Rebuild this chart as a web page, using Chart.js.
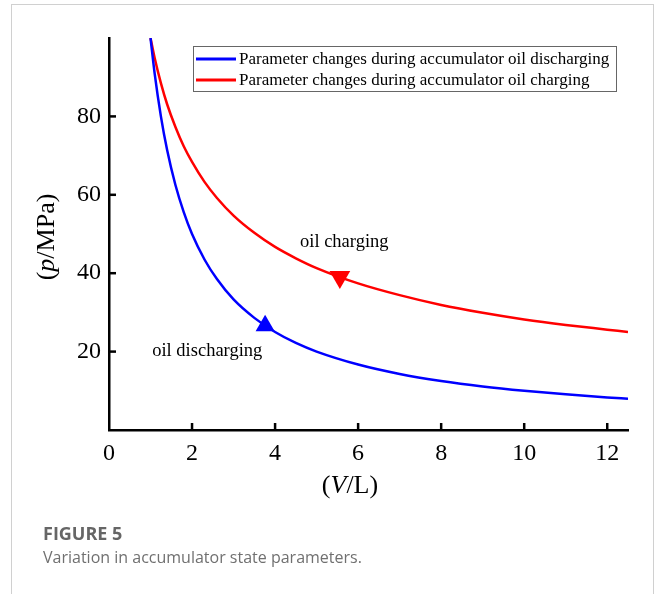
<!DOCTYPE html>
<html>
<head>
<meta charset="utf-8">
<script src="https://cdn.jsdelivr.net/npm/chart.js@4.4.0/dist/chart.umd.min.js"></script>
<style>
  body { margin: 0; background: #fff; }
  #wrap { position: relative; width: 654px; height: 594px; overflow: hidden; }
  #frame { position: absolute; left: 11px; top: 4px; width: 643px; height: 620px; border: 1px solid #d0d0d0; box-sizing: border-box; }
  #chart { position: absolute; left: 0; top: 0; }
  .cap { position: absolute; left: 43px; font-family: "Open Sans", "Noto Sans", sans-serif; white-space: nowrap; }
  #figno { top: 521px; font-size: 18px; font-weight: 700; color: #666; }
  #figtxt { top: 546px; font-size: 16px; color: #707070; }
</style>
</head>
<body>
<div id="wrap">
  <div id="frame"></div>
  <canvas id="chart" width="654" height="594"></canvas>
  <div class="cap" id="figno">FIGURE 5</div>
  <div class="cap" id="figtxt">Variation in accumulator state parameters.</div>
</div>
<script>
// volume (L) where the curves were read
const volumes = [1, 1.1, 1.25, 1.4, 1.6, 1.8, 2, 2.3, 2.6, 3, 3.5, 4, 4.5, 5, 6, 7, 8, 9, 10, 11, 12, 12.5];
// pressure (MPa) during oil discharging (blue)
const dischargePressure = [100, 90.9, 80, 71.4, 62.5, 55.6, 50, 43.5, 38.5, 33.3, 28.6, 25, 22.2, 20, 16.7, 14.3, 12.5, 11.1, 10, 9.1, 8.3, 8.0];
// pressure (MPa) during oil charging (red)
const chargePressure = [100, 94.9, 88.5, 83.1, 77.3, 72.4, 68.4, 63.3, 59.2, 54.7, 50.3, 46.7, 43.8, 41.3, 37.4, 34.4, 31.9, 29.9, 28.2, 26.8, 25.6, 25.0];

// direction arrows
const dischargeMarker = [{ x: 3.76, y: 26.6 }];
const chargeMarker = [{ x: 5.56, y: 39.0 }];

const seriesLabels = [
    'Parameter changes during accumulator oil discharging',
    'Parameter changes during accumulator oil charging'
];
const seriesColors = ['#0000ff', '#ff0000'];

const xTickValues = [0, 2, 4, 6, 8, 10, 12];
const yTickValues = [20, 40, 60, 80];

// text notes placed in data coordinates
const notes = [
    { text: 'oil charging', x: 4.6, y: 46.6 },
    { text: 'oil discharging', x: 1.04, y: 18.8 }
];

const serif = "'Liberation Serif', 'Times New Roman', serif";

function drawMixed(ctx, parts, cx, cy, size) {
    let total = 0;
    parts.forEach(p => {
        ctx.font = (p.italic ? 'italic ' : '') + size + 'px ' + serif;
        p.w = ctx.measureText(p.text).width;
        total += p.w;
    });
    let x = cx - total / 2;
    ctx.textAlign = 'left';
    ctx.textBaseline = 'middle';
    parts.forEach(p => {
        ctx.font = (p.italic ? 'italic ' : '') + size + 'px ' + serif;
        ctx.fillText(p.text, x, cy);
        x += p.w;
    });
}

const overlay = {
    id: 'overlay',
    afterDraw(chart) {
        const { ctx, chartArea: a, scales: { x, y } } = chart;
        ctx.save();

        // inward tick marks
        ctx.strokeStyle = '#000';
        ctx.lineWidth = 2.5;
        yTickValues.forEach(v => {
            const py = y.getPixelForValue(v);
            ctx.beginPath();
            ctx.moveTo(a.left, py);
            ctx.lineTo(a.left + 7, py);
            ctx.stroke();
        });
        xTickValues.slice(1).forEach(v => {
            const px = x.getPixelForValue(v);
            ctx.beginPath();
            ctx.moveTo(px, a.bottom);
            ctx.lineTo(px, a.bottom - 7);
            ctx.stroke();
        });

        // axis titles
        ctx.fillStyle = '#000';
        drawMixed(ctx, [{ text: '(' }, { text: 'V', italic: true }, { text: '/L)' }], 350, 486, 26);
        ctx.save();
        ctx.translate(47, 237);
        ctx.rotate(-Math.PI / 2);
        drawMixed(ctx, [{ text: '(' }, { text: 'p', italic: true }, { text: '/MPa)' }], 0, 0, 26);
        ctx.restore();

        // notes
        ctx.font = '18.5px ' + serif;
        ctx.textAlign = 'left';
        ctx.textBaseline = 'alphabetic';
        notes.forEach(n => {
            ctx.fillText(n.text, x.getPixelForValue(n.x), y.getPixelForValue(n.y));
        });

        // legend box
        const lx = a.left + 84, ly = a.top + 8;
        ctx.strokeStyle = '#666';
        ctx.lineWidth = 1;
        ctx.strokeRect(lx + 0.5, ly + 0.5, 423, 45);
        ctx.font = '17px ' + serif;
        ctx.textBaseline = 'middle';
        seriesLabels.forEach((label, i) => {
            const ry = ly + 13 + i * 21;
            ctx.strokeStyle = seriesColors[i];
            ctx.lineWidth = 3;
            ctx.beginPath();
            ctx.moveTo(lx + 3, ry);
            ctx.lineTo(lx + 43, ry);
            ctx.stroke();
            ctx.fillStyle = '#000';
            ctx.fillText(label, lx + 46, ry + 1);
        });
        ctx.restore();
    }
};

new Chart(document.getElementById('chart'), {
    type: 'line',
    data: {
        datasets: [
            {
                label: seriesLabels[0],
                data: volumes.map((v, i) => ({ x: v, y: dischargePressure[i] })),
                borderColor: seriesColors[0],
                borderWidth: 2.5,
                pointRadius: 0,
                cubicInterpolationMode: 'monotone'
            },
            {
                label: seriesLabels[1],
                data: volumes.map((v, i) => ({ x: v, y: chargePressure[i] })),
                borderColor: seriesColors[1],
                borderWidth: 2.5,
                pointRadius: 0,
                cubicInterpolationMode: 'monotone'
            },
            {
                label: 'discharge arrow',
                data: dischargeMarker,
                showLine: false,
                pointStyle: 'triangle',
                pointRadius: 11,
                pointBackgroundColor: seriesColors[0],
                pointBorderColor: seriesColors[0],
                pointBorderWidth: 0
            },
            {
                label: 'charge arrow',
                data: chargeMarker,
                showLine: false,
                pointStyle: 'triangle',
                rotation: 180,
                pointRadius: 12,
                pointBackgroundColor: seriesColors[1],
                pointBorderColor: seriesColors[1],
                pointBorderWidth: 0
            }
        ]
    },
    options: {
        responsive: false,
        animation: false,
        layout: { padding: { top: 38, right: 26, left: 0, bottom: 0 } },
        plugins: {
            legend: { display: false },
            tooltip: { enabled: false }
        },
        scales: {
            x: {
                type: 'linear',
                min: 0,
                max: 12.5,
                afterFit(s) { s.height = 164; },
                grid: { display: false, drawTicks: false },
                border: { display: true, color: '#000', width: 2.5 },
                ticks: {
                    stepSize: 2,
                    includeBounds: false,
                    autoSkip: false,
                    maxRotation: 0,
                    padding: 9,
                    color: '#000',
                    font: { family: serif, size: 24 },
                    callback: v => (v % 2 === 0 ? v : '')
                }
            },
            y: {
                min: 0,
                max: 100,
                afterFit(s) { s.width = 109; },
                grid: { display: false, drawTicks: false },
                border: { display: true, color: '#000', width: 2.5 },
                ticks: {
                    stepSize: 20,
                    padding: 8,
                    color: '#000',
                    font: { family: serif, size: 24 },
                    callback: v => (v === 0 || v === 100 ? '' : v)
                }
            }
        }
    },
    plugins: [overlay]
});
</script>
</body>
</html>
